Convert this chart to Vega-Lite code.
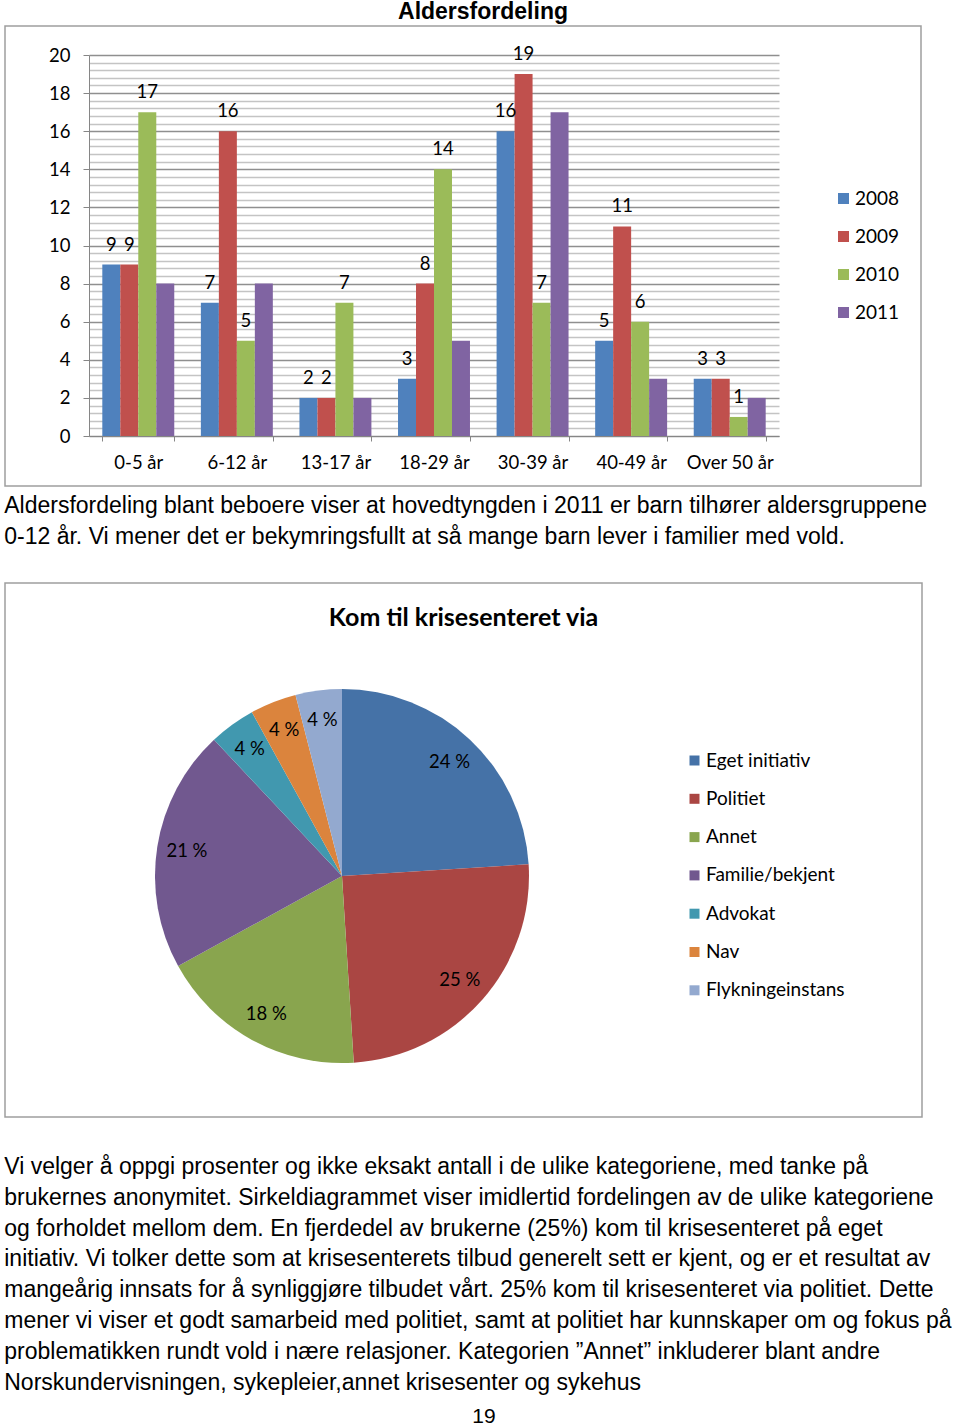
{
  "$schema": "https://vega.github.io/schema/vega-lite/v6.json",
  "padding": {"left": 4, "top": 0, "right": 0, "bottom": 0},
  "background": "white",
  "config": {
    "font": "Lato",
    "concat": {"spacing": 8}
  },
  "resolve": {"scale": {"color": "independent"}, "legend": {"color": "independent"}},
  "title": {"text": "19", "orient": "bottom", "anchor": "middle", "font": "Liberation Sans", "fontSize": 21, "fontWeight": "normal", "color": "#000000", "offset": 11, "dx": 6},
  "vconcat": [
    {
      "width": 916,
      "height": 460,
      "view": {"stroke": "#9e9e9e", "strokeWidth": 1.5},
      "title": {"text": "Aldersfordeling", "font": "Liberation Sans", "fontSize": 23, "fontWeight": "bold", "color": "#000000", "anchor": "middle", "dx": 20, "offset": 2},
      "data": {"values": [
        {"age": "0-5 år", "year": "2008", "n": 9},
        {"age": "0-5 år", "year": "2009", "n": 9},
        {"age": "0-5 år", "year": "2010", "n": 17},
        {"age": "0-5 år", "year": "2011", "n": 8},
        {"age": "6-12 år", "year": "2008", "n": 7},
        {"age": "6-12 år", "year": "2009", "n": 16},
        {"age": "6-12 år", "year": "2010", "n": 5},
        {"age": "6-12 år", "year": "2011", "n": 8},
        {"age": "13-17 år", "year": "2008", "n": 2},
        {"age": "13-17 år", "year": "2009", "n": 2},
        {"age": "13-17 år", "year": "2010", "n": 7},
        {"age": "13-17 år", "year": "2011", "n": 2},
        {"age": "18-29 år", "year": "2008", "n": 3},
        {"age": "18-29 år", "year": "2009", "n": 8},
        {"age": "18-29 år", "year": "2010", "n": 14},
        {"age": "18-29 år", "year": "2011", "n": 5},
        {"age": "30-39 år", "year": "2008", "n": 16},
        {"age": "30-39 år", "year": "2009", "n": 19},
        {"age": "30-39 år", "year": "2010", "n": 7},
        {"age": "30-39 år", "year": "2011", "n": 17},
        {"age": "40-49 år", "year": "2008", "n": 5},
        {"age": "40-49 år", "year": "2009", "n": 11},
        {"age": "40-49 år", "year": "2010", "n": 6},
        {"age": "40-49 år", "year": "2011", "n": 3},
        {"age": "Over 50 år", "year": "2008", "n": 3},
        {"age": "Over 50 år", "year": "2009", "n": 3},
        {"age": "Over 50 år", "year": "2010", "n": 1},
        {"age": "Over 50 år", "year": "2011", "n": 2}
      ]},
      "encoding": {
        "x": {
          "field": "age", "type": "nominal",
          "sort": ["0-5 år", "6-12 år", "13-17 år", "18-29 år", "30-39 år", "40-49 år", "Over 50 år"],
          "scale": {"range": [84, 774], "paddingInner": 0.27, "paddingOuter": 0.135},
          "axis": {"title": null, "orient": "bottom", "offset": -50, "labelAngle": 0, "labelFont": "Lato", "labelFontSize": 18.5, "labelColor": "#000000", "labelPadding": 12, "tickBand": "extent", "tickSize": 5, "tickColor": "#868686", "domainColor": "#868686", "grid": false}
        },
        "xOffset": {"field": "year", "type": "nominal", "scale": {"paddingInner": 0, "paddingOuter": 0}},
        "y": {
          "field": "n", "type": "quantitative",
          "scale": {"domain": [0, 20], "range": [410, 29], "nice": false},
          "axis": {
            "title": null, "offset": -84,
            "values": [0,0.4,0.8,1.2,1.6,2,2.4,2.8,3.2,3.6,4,4.4,4.8,5.2,5.6,6,6.4,6.8,7.2,7.6,8,8.4,8.8,9.2,9.6,10,10.4,10.8,11.2,11.6,12,12.4,12.8,13.2,13.6,14,14.4,14.8,15.2,15.6,16,16.4,16.8,17.2,17.6,18,18.4,18.8,19.2,19.6,20],
            "labelExpr": "datum.value % 2 === 0 ? '' + datum.value : ''",
            "labelOverlap": false,
            "labelFont": "Lato", "labelFontSize": 18.5, "labelColor": "#000000", "labelPadding": 13,
            "tickSize": 6,
            "tickColor": {"condition": {"test": "datum.value % 2 === 0", "value": "#868686"}, "value": "transparent"},
            "domainColor": "#868686",
            "grid": true,
            "gridColor": {"condition": {"test": "datum.value % 2 === 0", "value": "#8f8f8f"}, "value": "#c4c4c4"},
            "gridWidth": 1.3
          }
        }
      },
      "layer": [
        {
          "mark": {"type": "bar"},
          "encoding": {
            "color": {
              "field": "year", "type": "nominal",
              "scale": {"domain": ["2008", "2009", "2010", "2011"], "range": ["#4F81BD", "#C0504D", "#9BBB59", "#8064A2"]},
              "legend": {"title": null, "orient": "none", "legendX": 829, "legendY": 163, "symbolType": "square", "symbolSize": 121, "symbolStrokeWidth": 0, "labelFont": "Lato", "labelFontSize": 19, "labelColor": "#000000", "rowPadding": 18, "labelOffset": 2, "padding": 0}
            }
          }
        },
        {
          "transform": [{"filter": "datum.year !== '2011'"}],
          "mark": {"type": "text", "baseline": "alphabetic", "dy": -14, "font": "Lato", "fontSize": 18.5, "color": "#000000"},
          "encoding": {"text": {"field": "n", "type": "quantitative"}}
        }
      ]
    },
    {
      "resolve": {"scale": {"color": "independent"}},
      "title": {
        "text": [
          "Vi velger å oppgi prosenter og ikke eksakt antall i de ulike kategoriene, med tanke på",
          "brukernes anonymitet. Sirkeldiagrammet viser imidlertid fordelingen av de ulike kategoriene",
          "og forholdet mellom dem. En fjerdedel av brukerne (25%) kom til krisesenteret på eget",
          "initiativ. Vi tolker dette som at krisesenterets tilbud generelt sett er kjent, og er et resultat av",
          "mangeårig innsats for å synliggjøre tilbudet vårt. 25% kom til krisesenteret via politiet. Dette",
          "mener vi viser et godt samarbeid med politiet, samt at politiet har kunnskaper om og fokus på",
          "problematikken rundt vold i nære relasjoner. Kategorien ”Annet” inkluderer blant andre",
          "Norskundervisningen, sykepleier,annet krisesenter og sykehus"
        ],
        "orient": "bottom", "anchor": "start", "font": "Liberation Sans", "fontSize": 23, "fontWeight": "normal", "color": "#000000", "lineHeight": 30.9, "offset": 38
      },
      "vconcat": [
        {
          "title": {
            "text": [
              "Aldersfordeling blant beboere viser at hovedtyngden i 2011 er barn tilhører aldersgruppene",
              "0-12 år. Vi mener det er bekymringsfullt at så mange barn lever i familier med vold."
            ],
            "orient": "top", "anchor": "start", "font": "Liberation Sans", "fontSize": 23, "fontWeight": "normal", "color": "#000000", "lineHeight": 31, "offset": 33
          },
          "vconcat": [
            {
              "width": 917,
              "height": 534,
              "view": {"stroke": "#9e9e9e", "strokeWidth": 1.5},
              "title": {"text": "Kom til krisesenteret via", "font": "Lato", "fontSize": 25, "fontWeight": "bold", "color": "#000000", "anchor": "middle", "frame": "group", "offset": -48},
              "data": {"values": [
                {"i": 1, "cat": "Eget initiativ", "pct": 24, "label": "24 %"},
                {"i": 2, "cat": "Politiet", "pct": 25, "label": "25 %"},
                {"i": 3, "cat": "Annet", "pct": 18, "label": "18 %"},
                {"i": 4, "cat": "Familie/bekjent", "pct": 21, "label": "21 %"},
                {"i": 5, "cat": "Advokat", "pct": 4, "label": "4 %"},
                {"i": 6, "cat": "Nav", "pct": 4, "label": "4 %"},
                {"i": 7, "cat": "Flykningeinstans", "pct": 4, "label": "4 %"}
              ]},
              "encoding": {
                "theta": {"field": "pct", "type": "quantitative", "stack": true},
                "order": {"field": "i", "type": "quantitative"},
                "x": {"datum": 0.3675, "type": "quantitative", "scale": {"domain": [0, 1]}, "axis": null},
                "y": {"datum": 0.4513, "type": "quantitative", "scale": {"domain": [0, 1]}, "axis": null}
              },
              "layer": [
                {
                  "mark": {"type": "arc", "outerRadius": 187},
                  "encoding": {
                    "color": {
                      "field": "cat", "type": "nominal", "sort": null,
                      "scale": {"domain": ["Eget initiativ", "Politiet", "Annet", "Familie/bekjent", "Advokat", "Nav", "Flykningeinstans"], "range": ["#4572A7", "#AA4643", "#89A54E", "#71588F", "#4198AF", "#DB843D", "#93A9CF"]},
                      "legend": {"title": null, "orient": "none", "legendX": 680, "legendY": 168, "symbolType": "square", "symbolSize": 100, "symbolStrokeWidth": 0, "labelFont": "Lato", "labelFontSize": 19, "labelColor": "#000000", "rowPadding": 18.3, "labelOffset": 2, "padding": 0}
                    }
                  }
                },
                {
                  "mark": {"type": "text", "radius": 157, "font": "Lato", "fontSize": 18.5, "color": "#000000"},
                  "encoding": {"text": {"field": "label", "type": "nominal"}}
                }
              ]
            }
          ]
        }
      ]
    }
  ]
}
